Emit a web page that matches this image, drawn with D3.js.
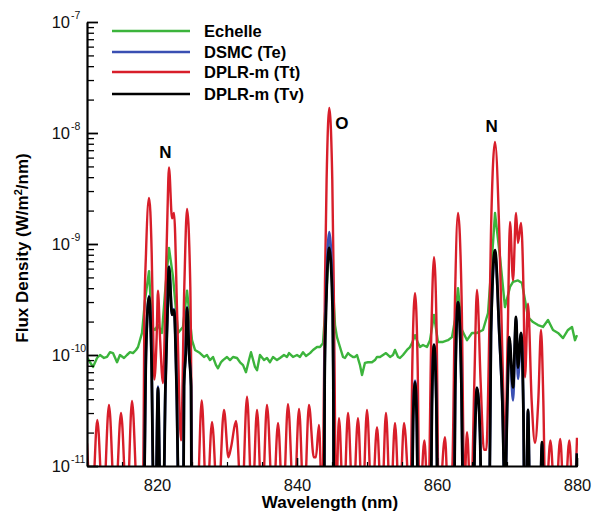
<!DOCTYPE html>
<html><head><meta charset="utf-8">
<script src="https://cdn.jsdelivr.net/npm/d3@7/dist/d3.min.js"></script>
<style>
html,body{margin:0;padding:0;background:#fff;}
svg{display:block;font-family:"Liberation Sans",Arial,Helvetica,sans-serif;}
</style></head>
<body>
<svg id="chart" width="600" height="513"></svg>
<script>
// ---------- DATA ----------
const seriesNames = ["Echelle", "DSMC (Te)", "DPLR-m (Tt)", "DPLR-m (Tv)"];
const xTickValues = [820, 840, 860, 880];
const yTickExponents = [-11, -10, -9, -8, -7];
const peakLabels = ["N", "O", "N"];
const peakLabelWl = [821.2, 846.4, 867.8];
const peakLabelVal = [5.95e-9, 1.09e-8, 1.02e-8];

// [wavelength nm, flux W/m2/nm]
const echelle = [[810.0,9.6e-11],[810.43,8.6e-11],[810.86,7.8e-11],[811.43,9.4e-11],[811.86,1.0e-10],[812.43,9.4e-11],[812.86,9.6e-11],[813.29,1.06e-10],[813.71,1.04e-10],[814.29,8.6e-11],[814.71,1.0e-10],[815.29,9.4e-11],[815.71,1.0e-10],[816.14,1.06e-10],[816.57,1.04e-10],[817.0,1.11e-10],[817.29,1.18e-10],[817.86,1.58e-10],[818.29,3.1e-10],[818.86,5.7e-10],[819.29,1.79e-10],[819.71,1.68e-10],[820.14,1.86e-10],[820.71,1.58e-10],[821.14,3.6e-10],[821.71,9.2e-10],[822.29,5.05e-10],[823.0,1.58e-10],[823.71,1.79e-10],[824.29,3.8e-10],[825.0,1.36e-10],[825.43,1.11e-10],[826.14,1.04e-10],[826.71,9.6e-11],[827.14,1.0e-10],[827.57,9.0e-11],[828.0,9.6e-11],[828.43,8.1e-11],[828.71,7.6e-11],[829.14,8.6e-11],[829.43,9.0e-11],[830.0,9.6e-11],[830.43,9.0e-11],[830.86,9.6e-11],[831.43,9.4e-11],[831.86,8.6e-11],[832.29,8.1e-11],[832.71,7.0e-11],[833.14,9.0e-11],[833.43,1.06e-10],[834.0,7.8e-11],[834.29,7.3e-11],[834.71,1.0e-10],[835.29,9.0e-11],[835.71,9.4e-11],[836.14,8.6e-11],[836.57,9.6e-11],[837.14,9.0e-11],[837.57,9.4e-11],[838.14,1.0e-10],[838.57,9.6e-11],[838.86,1.04e-10],[839.43,9.6e-11],[840.0,1.0e-10],[840.43,9.6e-11],[840.86,1.06e-10],[841.29,9.8e-11],[841.86,1.04e-10],[842.29,1.11e-10],[842.86,1.18e-10],[843.29,1.18e-10],[843.71,1.28e-10],[844.14,3.1e-10],[844.61,1.1e-9],[845.0,6.2e-10],[845.43,1.86e-10],[845.71,1.45e-10],[846.14,1.18e-10],[846.57,9.6e-11],[846.86,9.4e-11],[847.29,1.04e-10],[847.57,1.0e-10],[848.0,9.6e-11],[848.29,9.6e-11],[848.57,1.0e-10],[849.0,8.1e-11],[849.29,6.6e-11],[849.71,8.5e-11],[850.14,8.6e-11],[850.71,8.6e-11],[851.14,9.0e-11],[851.43,9.6e-11],[851.86,9.6e-11],[852.29,1.0e-10],[852.71,1.04e-10],[853.29,9.6e-11],[853.71,1.0e-10],[854.0,1.11e-10],[854.43,9.6e-11],[854.71,9.4e-11],[855.14,1.0e-10],[855.71,1.11e-10],[856.14,1.18e-10],[856.43,1.28e-10],[856.86,1.51e-10],[857.29,1.28e-10],[857.57,1.18e-10],[858.0,1.23e-10],[858.57,1.18e-10],[859.0,1.36e-10],[859.57,2.29e-10],[860.14,1.31e-10],[860.86,1.31e-10],[861.57,1.36e-10],[862.14,1.45e-10],[862.57,2.07e-10],[863.0,4.0e-10],[863.57,1.68e-10],[864.29,1.36e-10],[865.0,1.58e-10],[865.71,1.58e-10],[866.57,1.68e-10],[867.29,2.39e-10],[867.86,7.6e-10],[868.29,1.9e-9],[869.0,7.6e-10],[869.71,2.7e-10],[870.43,4.1e-10],[870.86,4.55e-10],[871.57,4.7e-10],[872.14,4.45e-10],[872.57,3.13e-10],[873.0,2.2e-10],[873.71,1.98e-10],[874.43,1.86e-10],[875.14,1.79e-10],[875.86,2.07e-10],[876.57,1.68e-10],[877.29,1.58e-10],[878.0,1.42e-10],[878.71,1.68e-10],[879.29,1.79e-10],[879.71,1.36e-10],[880.0,1.51e-10]];

const dplrTt = [[810.0,1.6e-11],[810.7,4e-12],[811.47,2.6e-11],[812.3,4e-12],[813.14,3.55e-11],[814.0,4e-12],[814.86,3.0e-11],[815.7,4e-12],[816.43,3.85e-11],[817.3,4e-12],[818.0,4e-12],[818.19,2.07e-10],[818.43,8.3e-10],[818.86,2.6e-9],[819.24,8.3e-10],[819.45,1.6e-10],[819.62,6e-11],[819.95,1.45e-10],[820.14,3.8e-10],[820.43,1.45e-10],[820.86,5.6e-11],[821.24,4.1e-10],[821.47,1.64e-9],[821.71,4.9e-9],[822.15,1.7e-9],[822.43,1.9e-9],[822.9,2.07e-10],[823.43,1.7e-11],[823.9,4.1e-10],[824.29,2.07e-9],[824.76,4.1e-10],[825.1,4e-12],[825.7,4e-12],[826.39,3.9e-11],[827.1,4e-12],[827.86,2.49e-11],[828.7,4e-12],[829.57,3.2e-11],[830.2,1.2e-11],[830.6,1.5e-11],[831.29,2.54e-11],[832.1,4e-12],[832.86,4.2e-11],[833.6,4e-12],[834.29,3.2e-11],[835.0,4e-12],[835.71,3.55e-11],[836.57,4e-12],[837.29,2.44e-11],[838.0,4e-12],[838.71,3.6e-11],[839.57,4e-12],[840.29,3.27e-11],[841.0,4e-12],[841.71,3.55e-11],[842.4,1.2e-11],[842.7,1.2e-11],[843.14,2.34e-11],[843.6,4e-12],[843.86,6e-11],[844.0,4.7e-10],[844.23,3.8e-9],[844.61,1.68e-8],[845.04,3.8e-9],[845.24,4.7e-10],[845.38,6e-11],[845.55,4e-12],[846.0,2.7e-11],[846.65,4e-12],[847.29,3.0e-11],[848.0,4e-12],[848.71,2.7e-11],[849.35,4e-12],[850.0,3.2e-11],[850.7,4e-12],[851.43,2.24e-11],[852.1,4e-12],[852.71,3.0e-11],[853.35,4e-12],[854.0,2.44e-11],[854.65,4e-12],[855.29,2.44e-11],[856.2,4e-12],[856.47,7.8e-11],[856.86,3.6e-10],[857.24,7.8e-11],[857.5,4e-12],[858.2,1.7e-11],[858.75,4e-12],[859.19,1.58e-10],[859.57,7.6e-10],[859.95,1.58e-10],[860.25,4e-12],[861.14,1.82e-11],[861.65,4e-12],[862.2,1e-11],[862.57,3.13e-10],[863.0,1.9e-9],[863.52,3.13e-10],[863.9,6e-12],[864.29,2.02e-11],[864.85,4e-12],[865.33,5.6e-11],[865.71,3.85e-10],[866.24,5.6e-11],[866.7,1.4e-11],[867.05,1.4e-11],[867.38,7.8e-11],[867.71,1.26e-9],[868.29,8.3e-9],[868.9,1.26e-9],[869.38,7.8e-11],[869.71,1.39e-11],[870.1,1.5e-10],[870.43,1.58e-9],[870.86,4.7e-10],[871.29,1.9e-9],[871.57,1.02e-9],[872.0,1.55e-9],[872.35,4e-10],[872.57,6.3e-11],[873.0,2.9e-10],[873.52,3.9e-11],[874.0,1.61e-11],[874.47,3.9e-11],[874.86,1.68e-10],[875.19,3.9e-11],[875.5,4e-12],[876.2,1.7e-11],[876.9,4e-12],[877.6,1.75e-11],[878.2,4e-12],[878.9,1.7e-11],[879.5,4e-12],[880.0,1.8e-11]];

const dplrTv = [[810.0,4e-12],[818.1,4e-12],[818.43,1.04e-10],[818.86,3.33e-10],[819.2,1.04e-10],[819.55,4e-12],[819.8,4e-12],[820.14,5.05e-11],[820.5,4e-12],[820.9,4e-12],[821.2,5e-11],[821.47,2.07e-10],[821.71,6.2e-10],[822.15,2.3e-10],[822.43,2.54e-10],[822.8,5e-11],[823.14,4e-12],[823.76,4e-12],[823.86,5.2e-11],[824.1,1.04e-10],[824.29,2.65e-10],[824.6,1.0e-10],[824.86,5.2e-11],[824.95,4e-12],[843.88,4e-12],[843.95,6e-11],[844.14,2.4e-10],[844.61,9.2e-10],[845.1,2.4e-10],[845.19,6e-11],[845.27,4e-12],[856.4,4e-12],[856.6,2.76e-11],[856.86,5.7e-11],[857.1,2.76e-11],[857.3,4e-12],[859.1,4e-12],[859.29,3.9e-11],[859.57,1.23e-10],[859.9,3.9e-11],[860.1,4e-12],[862.43,4e-12],[862.62,5.6e-11],[863.0,3.0e-10],[863.48,5.6e-11],[863.76,4e-12],[865.19,4e-12],[865.43,2.0e-11],[865.71,5.05e-11],[866.14,2.0e-11],[866.38,4e-12],[867.48,4e-12],[867.71,1.58e-10],[868.29,8.8e-10],[868.9,1.58e-10],[869.33,3.9e-11],[869.71,5e-12],[870.05,4e-11],[870.33,1.45e-10],[870.86,5.1e-11],[871.29,2.2e-10],[871.57,7.7e-11],[872.0,1.58e-10],[872.35,3e-11],[872.5,4e-12],[872.75,4e-12],[873.0,3.2e-11],[873.3,4e-12],[874.7,4e-12],[875.0,1.64e-11],[875.3,4e-12],[879.6,4e-12],[880.0,1.3e-11]];

const dsmcTe = [[810.0,4e-12],[818.1,4e-12],[818.43,1.06e-10],[818.86,3.4e-10],[819.2,1.06e-10],[819.55,4e-12],[819.8,4e-12],[820.14,5.2e-11],[820.5,4e-12],[820.9,4e-12],[821.2,5.2e-11],[821.47,2.1e-10],[821.71,6.3e-10],[822.15,2.3e-10],[822.43,2.6e-10],[822.8,5e-11],[823.14,4e-12],[823.76,4e-12],[823.86,5.3e-11],[824.1,1.06e-10],[824.29,2.7e-10],[824.6,1.0e-10],[824.86,5.3e-11],[824.95,4e-12],[843.88,4e-12],[843.95,7e-11],[844.14,3.0e-10],[844.61,1.28e-9],[845.1,3.0e-10],[845.19,7e-11],[845.27,4e-12],[856.4,4e-12],[856.6,2.8e-11],[856.86,5.9e-11],[857.1,2.8e-11],[857.3,4e-12],[859.1,4e-12],[859.29,4e-11],[859.57,1.25e-10],[859.9,4e-11],[860.1,4e-12],[862.43,4e-12],[862.62,5.6e-11],[863.0,3.0e-10],[863.48,5.6e-11],[863.76,4e-12],[865.19,4e-12],[865.43,2.0e-11],[865.71,5.1e-11],[866.14,2.0e-11],[866.38,4e-12],[867.48,4e-12],[867.71,1.5e-10],[868.29,8.6e-10],[868.9,1.5e-10],[869.33,3.8e-11],[869.71,5e-12],[870.05,4e-11],[870.33,1.4e-10],[870.86,3.9e-11],[871.29,2.2e-10],[871.57,6.1e-11],[872.0,1.55e-10],[872.35,3e-11],[872.5,4e-12],[872.75,4e-12],[873.0,3.2e-11],[873.3,4e-12],[874.7,4e-12],[875.0,1.6e-11],[875.3,4e-12],[879.6,4e-12],[880.0,1.3e-11]];

const colors = ["#3cb43c", "#3a4fb2", "#d81e2a", "#000000"];

// ---------- CHART ----------
const svg = d3.select("#chart");
const L = 87, R = 577, T = 22, B = 466;
const x = d3.scaleLinear().domain([810, 880]).range([L, R]);
const y = d3.scaleLog().domain([1e-11, 1e-7]).range([B, T]);

svg.append("defs").append("clipPath").attr("id", "clip")
  .append("rect").attr("x", L).attr("y", 0).attr("width", R - L + 1).attr("height", B + 1);

const series = [
  {data: echelle, color: colors[0], curve: d3.curveLinear, w: 2.4},
  {data: dplrTt, color: colors[2], curve: d3.curveMonotoneX, w: 2.4},
  {data: dsmcTe, color: colors[1], curve: d3.curveMonotoneX, w: 2.6},
  {data: dplrTv, color: colors[3], curve: d3.curveMonotoneX, w: 2.8}
];
const plot = svg.append("g").attr("clip-path", "url(#clip)");
series.forEach(s => {
  const line = d3.line().x(d => x(d[0])).y(d => y(d[1])).curve(s.curve);
  plot.append("path").datum(s.data).attr("d", line)
    .attr("fill", "none").attr("stroke", s.color).attr("stroke-width", s.w)
    .attr("stroke-linejoin", "round");
});

// axes
const xMinor = d3.range(810, 881, 5).filter(v => !xTickValues.includes(v));
svg.append("g").attr("transform", `translate(0,${B})`)
  .call(d3.axisBottom(x).tickValues(xMinor).tickSize(-4).tickSizeOuter(0).tickFormat(""))
  .call(g => g.select(".domain").remove())
  .call(g => g.selectAll(".tick line").attr("stroke", "#000").attr("stroke-width", 1.2));
const xAx = svg.append("g").attr("transform", `translate(0,${B})`)
  .call(d3.axisBottom(x).tickValues(xTickValues).tickSize(-8).tickSizeOuter(0).tickFormat(d3.format("d")));
xAx.select(".domain").attr("stroke", "#000").attr("stroke-width", 2.2);
xAx.selectAll(".tick line").attr("stroke", "#000").attr("stroke-width", 1.6);
xAx.selectAll(".tick text").attr("y", 13).attr("font-size", 16.5)
  .attr("font-family", "Liberation Sans, Arial, sans-serif").attr("fill", "#111");

const yMajor = yTickExponents.map(e => Math.pow(10, e));
const yMinor = [];
yTickExponents.slice(0, -1).forEach(e => { for (let k = 2; k <= 9; k++) yMinor.push(k * Math.pow(10, e)); });
svg.append("g").attr("transform", `translate(${L},0)`)
  .call(d3.axisLeft(y).tickValues(yMinor).tickSize(-7).tickSizeOuter(0).tickFormat(""))
  .call(g => g.select(".domain").remove())
  .call(g => g.selectAll(".tick line").attr("stroke", "#000").attr("stroke-width", 1.3));
const yAx = svg.append("g").attr("transform", `translate(${L},0)`)
  .call(d3.axisLeft(y).tickValues(yMajor).tickSize(-11).tickSizeOuter(0).tickFormat(""));
yAx.select(".domain").attr("stroke", "#000").attr("stroke-width", 2.2);
yAx.selectAll(".tick line").attr("stroke", "#000").attr("stroke-width", 1.8);
// y tick labels
const ylab = svg.append("g").attr("font-size", 16.5).attr("fill", "#111");
yTickExponents.forEach(e => {
  ylab.append("text").attr("x", 70).attr("y", y(Math.pow(10, e)) + 6).attr("text-anchor", "end").text("10");
  ylab.append("text").attr("x", 71).attr("y", y(Math.pow(10, e)) - 3).attr("font-size", 10.5).text(String(e));
});

// axis titles
svg.append("text").attr("x", (L + R) / 2 - 2).attr("y", 508).attr("text-anchor", "middle")
  .attr("font-weight", "bold").attr("font-size", 17).text("Wavelength (nm)");
const yt = svg.append("text").attr("transform", `translate(28,${(T + B) / 2 + 4}) rotate(-90)`)
  .attr("text-anchor", "middle").attr("font-weight", "bold").attr("font-size", 17);
yt.append("tspan").text("Flux Density (W/m");
yt.append("tspan").attr("font-size", 11).attr("dy", -6).text("2");
yt.append("tspan").attr("dy", 6).text("/nm)");

// peak labels
peakLabels.forEach((p, i) => {
  svg.append("text").attr("x", x(peakLabelWl[i])).attr("y", y(peakLabelVal[i]))
    .attr("text-anchor", "middle").attr("font-weight", "bold").attr("font-size", 17).text(p);
});

// legend
const legY = [31, 52, 72, 94];
const leg = svg.append("g");
[0, 1, 2, 3].forEach((k, i) => {
  leg.append("line").attr("x1", 112).attr("x2", 190).attr("y1", legY[i]).attr("y2", legY[i])
    .attr("stroke", colors[k]).attr("stroke-width", 2.6);
  leg.append("text").attr("x", 204).attr("y", legY[i] + 6).attr("font-weight", "bold")
    .attr("font-size", 16.5).text(seriesNames[k]);
});
</script>
</body></html>
